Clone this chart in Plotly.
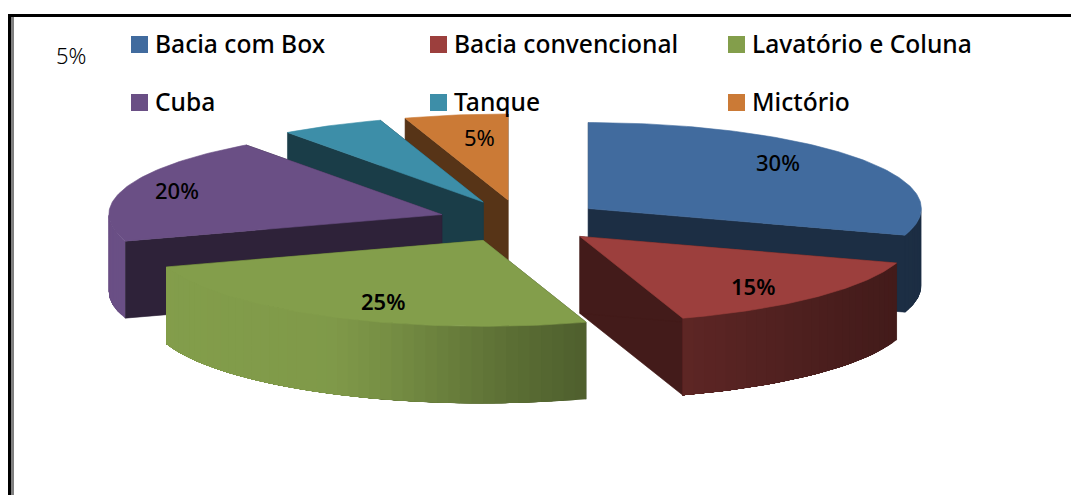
import math
import plotly.graph_objects as go

# --- data ---
categories = ["Bacia com Box", "Bacia convencional", "Lavatório e Coluna", "Cuba", "Tanque", "Mictório"]
shares = [30, 15, 25, 20, 5, 5]
colors = ["#416B9E", "#9C3F3D", "#839E4B", "#6A4F85", "#3D8EA8", "#CB7A36"]

# --- pie geometry (pixel scale of the axes) ---
W, H = 1071, 495
CX, CY, RX, RY = 521, 221.2, 333, 86
DEPTH, EXPLODE = 77, 0.25
FACE_SHADE = 0.43
BANDS_PER_DEG = 0.5


def rgb(hexcol, f=1.0):
    r, g, b = (int(hexcol[i:i + 2], 16) for i in (1, 3, 5))
    return f"rgb({min(255, round(r * f))},{min(255, round(g * f))},{min(255, round(b * f))})"


def rim_shade(t):
    """Lighting of the outer wall, brighter towards the left of the pie."""
    s = math.sin(t)
    pts = [(-1.0, 1.0), (-0.45, 0.97), (-0.28, 0.9), (-0.1, 0.8), (0.1, 0.69),
           (0.31, 0.6), (0.8, 0.46), (1.0, 0.42)]
    for (a, fa), (b, fb) in zip(pts, pts[1:]):
        if s <= b:
            return fa + (fb - fa) * (s - a) / (b - a)
    return 0.42


def poly(fig, xs, ys, color, lw=0.6):
    fig.add_trace(go.Scatter(
        x=list(xs) + [xs[0]], y=list(ys) + [ys[0]], mode="lines", fill="toself",
        fillcolor=color, line=dict(color=color, width=lw),
        hoverinfo="skip", showlegend=False))


# angles of each slice, measured clockwise from the top of the ellipse
total = sum(shares)
slices, acc = [], 0.0
for name, share, col in zip(categories, shares, colors):
    t0 = 2 * math.pi * acc / total
    t1 = 2 * math.pi * (acc + share) / total
    mid = (t0 + t1) / 2
    ax = CX + EXPLODE * RX * math.sin(mid)
    ay = CY - EXPLODE * RY * math.cos(mid)
    slices.append(dict(name=name, share=share, col=col, t0=t0, t1=t1, ax=ax, ay=ay))
    acc += share

fig = go.Figure()
for s in sorted(slices, key=lambda d: d["ay"]):
    ax, ay, t0, t1, col = s["ax"], s["ay"], s["t0"], s["t1"], s["col"]
    px = lambda t: ax + RX * math.sin(t)
    py = lambda t: ay - RY * math.cos(t)
    # cut faces
    for t in (t1, t0):
        poly(fig, [ax, px(t), px(t), ax], [ay, py(t), py(t) + DEPTH, ay + DEPTH], rgb(col, FACE_SHADE))
    # outer wall, only the part that faces the viewer; each band runs to the
    # wall's far end and the next band paints over it, so no seams show
    a, b = max(t0, math.pi / 2), min(t1, 3 * math.pi / 2)
    if b > a:
        n = max(2, int(math.degrees(b - a) * BANDS_PER_DEG))
        for i in range(n):
            u = a + (b - a) * i / n
            us = [u + (b - u) * k / 24 for k in range(25)]
            xs = [px(w) for w in us] + [px(w) for w in reversed(us)]
            ys = [py(w) for w in us] + [py(w) + DEPTH for w in reversed(us)]
            poly(fig, xs, ys, rgb(col, rim_shade(u + (b - a) / n / 2)), lw=0)
    # top
    n = max(8, int(math.degrees(t1 - t0)))
    ts = [t0 + (t1 - t0) * k / n for k in range(n + 1)]
    poly(fig, [ax] + [px(t) for t in ts], [ay] + [py(t) for t in ts], col)

# --- text and frame ---
FONT = "Noto Sans"
label_pos = {
    "Bacia com Box": (778, 162, 500),
    "Bacia convencional": (753, 286, 600),
    "Lavatório e Coluna": (383, 301, 600),
    "Cuba": (177, 190, 500),
    "Tanque": (71, 55, 300),
    "Mictório": (479, 137, 400),
}
legend_cols = [131, 430, 728]
legend_rows = [36, 94]
SW = 17

annotations, shapes = [], []
for s in slices:
    x, y, weight = label_pos[s["name"]]
    annotations.append(dict(x=x, y=y, text=f'{s["share"]}%', showarrow=False,
                            xanchor="center", yanchor="middle",
                            font=dict(family=FONT, size=22, color="#000", weight=weight)))
for i, s in enumerate(slices):
    lx = legend_cols[i % 3]
    ly = legend_rows[i // 3]
    shapes.append(dict(type="rect", x0=lx, x1=lx + SW, y0=ly, y1=ly + SW,
                       fillcolor=s["col"], line_width=0, layer="above"))
    annotations.append(dict(x=lx + 22, y=ly + 7.5, text=s["name"], showarrow=False,
                            xanchor="left", yanchor="middle",
                            font=dict(family=FONT, size=24.6, color="#000", weight=500)))

shapes += [
    dict(type="rect", x0=8, x1=W, y0=14, y1=17, fillcolor="#000", line_width=0),
    dict(type="rect", x0=8, x1=11, y0=14, y1=H, fillcolor="#000", line_width=0),
    dict(type="rect", x0=11, x1=14, y0=17, y1=H, fillcolor="#808080", line_width=0),
]

fig.update_layout(
    width=W, height=H, margin=dict(l=0, r=0, t=0, b=0),
    paper_bgcolor="white", plot_bgcolor="white", showlegend=False,
    xaxis=dict(range=[0, W], visible=False, fixedrange=True),
    yaxis=dict(range=[H, 0], visible=False, fixedrange=True),
    annotations=annotations, shapes=shapes,
)
fig.write_html("out.html", config=dict(displayModeBar=False),
               post_script="document.body.style.margin='0';")
